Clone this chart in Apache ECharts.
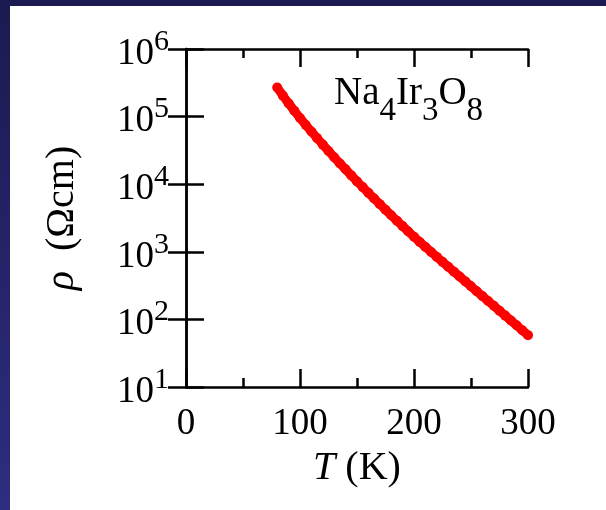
<!DOCTYPE html>
<html><head><meta charset="utf-8">
<script src="https://cdn.jsdelivr.net/npm/echarts@6/dist/echarts.min.js"></script>
<style>html,body{margin:0;padding:0;background:#fff}#c{width:606px;height:510px}</style>
</head><body><div id="c"></div>
<script>
const temperatureK = [80,85,90,95,100,105,110,115,120,125,130,135,140,145,150,155,160,165,170,175,180,185,190,195,200,205,210,215,220,225,230,235,240,245,250,255,260,265,270,275,280,285,290,295,300];
const resistivityOhmCm = [269200,204200,157000,121900,95500,75500,60100,48000,38500,31000,25100,20300,16600,13500,11000,9060,7450,6140,5070,4200,3480,2890,2400,2000,1670,1400,1180,995,841,710,601,509,431,365,309,261,221,187.5,158.9,134.3,113.8,96.4,81.7,69.0,58.5];
const xTickValues = [0,100,200,300];
const yTickExponents = {10:'1',100:'2',1000:'3',10000:'4',100000:'5',1000000:'6'};
const serif = 'Liberation Serif';

const chart = echarts.init(document.getElementById('c'), null, {renderer:'canvas'});
const axisLine = {show:true, lineStyle:{color:'#000', width:2.5}};
const xBase = {type:'value', min:0, max:300, interval:100, axisLine, splitLine:{show:false},
  axisTick:{show:true, inside:true, length:18, lineStyle:{color:'#000', width:2.5}},
  minorTick:{show:true, splitNumber:2, length:9, lineStyle:{color:'#000', width:2.5}},
  minorSplitLine:{show:false}};
const yBase = {type:'log', logBase:10, min:10, max:1000000, splitNumber:5, axisLine, splitLine:{show:false},
  axisTick:{show:true, inside:true, length:18, lineStyle:{color:'#000', width:2.5}}};

chart.setOption({
  animation:false,
  backgroundColor:'#fff',
  graphic:[
    {type:'rect', shape:{x:0,y:0,width:606,height:6}, style:{fill:'#1b1a50'}, z:100},
    {type:'rect', shape:{x:0,y:0,width:10,height:510}, style:{fill:new echarts.graphic.LinearGradient(0,0,0,1,[{offset:0,color:'#1b1a50'},{offset:1,color:'#2e2d80'}])}, z:100}
  ],
  title:{
    text:'{m|Na}{s|4}{m|Ir}{s|3}{m|O}{s|8}',
    left:329, top:69,
    textStyle:{fontWeight:'normal', rich:{
      m:{fontFamily:serif, fontSize:39, fontWeight:'normal', color:'#000', verticalAlign:'top'},
      s:{fontFamily:serif, fontSize:33, fontWeight:'normal', color:'#000', verticalAlign:'bottom', padding:[21,0,0,0]}
    }}
  },
  grid:{left:186, top:49, width:342, height:338},
  xAxis:[
    Object.assign({}, xBase, {position:'bottom',
      name:'{i|T}{n| (K)}', nameLocation:'middle', nameGap:61,
      nameTextStyle:{rich:{i:{fontFamily:serif, fontStyle:'italic', fontSize:40, color:'#000'}, n:{fontFamily:serif, fontSize:40, color:'#000'}}},
      axisLabel:{show:true, margin:19, fontFamily:serif, fontSize:37, color:'#000',
        formatter:v => xTickValues.includes(v) ? String(v) : ''}}),
    Object.assign({}, xBase, {position:'top', axisLabel:{show:false}})
  ],
  yAxis:[
    Object.assign({}, yBase, {position:'left',
      name:'{i|ρ}{n|  (Ωcm)}', nameLocation:'middle', nameGap:104, nameRotate:90,
      nameTextStyle:{rich:{i:{fontFamily:serif, fontStyle:'italic', fontSize:40, color:'#000'}, n:{fontFamily:serif, fontSize:40, color:'#000'}}},
      axisLabel:{show:true, margin:17,
        formatter:v => '{s|' + (yTickExponents[Math.round(v)] || '') + '}\n{b|10}{g| }',
        rich:{
          s:{fontFamily:serif, fontSize:30, color:'#000', lineHeight:10},
          b:{fontFamily:serif, fontSize:37, color:'#000', lineHeight:14},
          g:{fontFamily:serif, fontSize:37, width:15, lineHeight:14}
        }}}),
    Object.assign({}, yBase, {position:'right', axisLabel:{show:false}})
  ],
  series:[{
    type:'line', xAxisIndex:0, yAxisIndex:0,
    data:temperatureK.map((t,i)=>[t, resistivityOhmCm[i]]),
    symbol:'circle', symbolSize:10, showSymbol:true,
    lineStyle:{color:'#ff0000', width:9},
    itemStyle:{color:'#ff0000'},
    clip:false
  }]
});
</script></body></html>
